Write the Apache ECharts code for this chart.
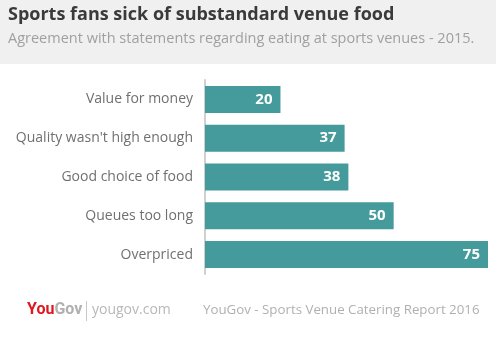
<!DOCTYPE html>
<html><head><meta charset="utf-8">
<script src="https://cdn.jsdelivr.net/npm/echarts@6/dist/echarts.min.js"></script>
<style>html,body{margin:0;padding:0;background:#fff}#c{width:496px;height:341px}</style>
</head><body><div id="c"></div>
<script>
var categories = ['Value for money', "Quality wasn't high enough", 'Good choice of food', 'Queues too long', 'Overpriced'];
var values = [20, 37, 38, 50, 75];
var titleText = 'Sports fans sick of substandard venue food';
var subtitleText = 'Agreement with statements regarding eating at sports venues - 2015.';
var sourceText = 'YouGov - Sports Venue Catering Report 2016';

var chart = echarts.init(document.getElementById('c'));
chart.setOption({
  backgroundColor: '#fff',
  animation: false,
  graphic: [
    {type: 'rect', left: 0, top: 0, shape: {width: 496, height: 64}, style: {fill: '#f0f0f0'}, z: -10},
    {type: 'text', left: 8, top: 6, style: {text: titleText, font: 'bold 18px "Open Sans"', fill: '#3a3a3a'}},
    {type: 'text', left: 8, top: 31, style: {text: subtitleText, font: '14.5px "Open Sans"', fill: '#a0a0a0'}},
    {type: 'text', left: 27, top: 302, style: {rich: {a: {font: 'bold 16px Roboto', fill: '#e0171c'}, b: {font: 'bold 16px Roboto', fill: '#b0b0b0'}}, text: '{a|You}{b|Gov}'}},
    {type: 'rect', left: 86, top: 301, shape: {width: 1, height: 20}, style: {fill: '#c8c8c8'}},
    {type: 'text', left: 92, top: 303, style: {text: 'yougov.com', font: '14px "Open Sans"', fill: '#b8b8b8'}},
    {type: 'text', left: 203, top: 304, style: {text: sourceText, font: '13.3px "Open Sans"', fill: '#b0b0b0'}}
  ],
  grid: {left: 205, right: 8, top: 80, bottom: 67, containLabel: false},
  xAxis: {type: 'value', min: 0, max: 75, show: false},
  yAxis: {
    type: 'category', data: categories, inverse: true,
    axisLine: {show: true, lineStyle: {color: '#d0d0d0', width: 2}},
    axisTick: {show: false},
    axisLabel: {color: '#707070', fontSize: 14, fontFamily: 'Open Sans', margin: 12}
  },
  series: [{
    type: 'bar', data: values, barWidth: 27,
    itemStyle: {color: '#459b9c'},
    label: {show: true, position: 'insideRight', color: '#fff', fontWeight: 'bold', fontSize: 15, fontFamily: 'Open Sans', distance: 8}
  }]
});
</script></body></html>
